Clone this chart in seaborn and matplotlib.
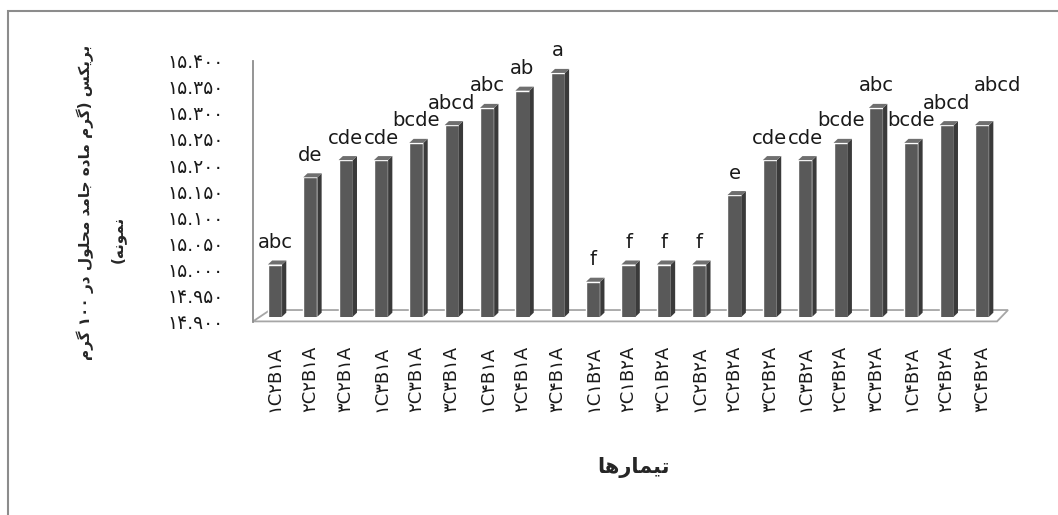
import re

import matplotlib

matplotlib.use("Agg")
import matplotlib.pyplot as plt
import seaborn as sns
from matplotlib.patches import Polygon, Rectangle

# treatment labels as they appear on the axis (visual order, bottom to top)
TREATMENTS = [
    "۱C۲B۱A", "۲C۲B۱A", "۳C۲B۱A", "۱C۳B۱A", "۲C۳B۱A", "۳C۳B۱A",
    "۱C۴B۱A", "۲C۴B۱A", "۳C۴B۱A", "۱C۱B۲A", "۲C۱B۲A", "۳C۱B۲A",
    "۱C۲B۲A", "۲C۲B۲A", "۳C۲B۲A", "۱C۳B۲A", "۲C۳B۲A", "۳C۳B۲A",
    "۱C۴B۲A", "۲C۴B۲A", "۳C۴B۲A",
]
BRIX = [
    15.000, 15.167, 15.200, 15.200, 15.233, 15.267, 15.300, 15.333, 15.367,
    14.967, 15.000, 15.000, 15.000, 15.133, 15.200, 15.200, 15.233, 15.300,
    15.233, 15.267, 15.267,
]
LETTERS = [
    "abc", "de", "cde", "cde", "bcde", "abcd", "abc", "ab", "a",
    "f", "f", "f", "f", "e", "cde", "cde", "bcde", "abc",
    "bcde", "abcd", "abcd",
]
Y_TICKS = [14.90, 14.95, 15.00, 15.05, 15.10, 15.15, 15.20, 15.25, 15.30, 15.35, 15.40]
Y_TITLE_1 = "بریکس (گرم ماده جامد محلول در ۱۰۰ گرم"
Y_TITLE_2 = "نمونه)"
X_TITLE = "تیمارها"

# arabic presentation forms: isolated, final, initial, medial
FORMS = {
    "ا": ("\ufe8d", "\ufe8e", None, None),
    "ب": ("\ufe8f", "\ufe90", "\ufe91", "\ufe92"),
    "ت": ("\ufe95", "\ufe96", "\ufe97", "\ufe98"),
    "ج": ("\ufe9d", "\ufe9e", "\ufe9f", "\ufea0"),
    "ح": ("\ufea1", "\ufea2", "\ufea3", "\ufea4"),
    "د": ("\ufea9", "\ufeaa", None, None),
    "ر": ("\ufead", "\ufeae", None, None),
    "س": ("\ufeb1", "\ufeb2", "\ufeb3", "\ufeb4"),
    "ل": ("\ufedd", "\ufede", "\ufedf", "\ufee0"),
    "م": ("\ufee1", "\ufee2", "\ufee3", "\ufee4"),
    "ن": ("\ufee5", "\ufee6", "\ufee7", "\ufee8"),
    "ه": ("\ufee9", "\ufeea", "\ufeeb", "\ufeec"),
    "و": ("\ufeed", "\ufeee", None, None),
    "ی": ("\ufbfc", "\ufbfd", "\ufbfe", "\ufbff"),
    "ک": ("\ufb8e", "\ufb8f", "\ufb90", "\ufb91"),
    "گ": ("\ufb92", "\ufb93", "\ufb94", "\ufb95"),
}


def rtl(text: str) -> str:
    shaped = []
    for i, ch in enumerate(text):
        if ch not in FORMS:
            shaped.append(ch)
            continue
        prev = text[i - 1] if i > 0 else ""
        nxt = text[i + 1] if i + 1 < len(text) else ""
        iso, fin, ini, med = FORMS[ch]
        join_prev = prev in FORMS and FORMS[prev][2] is not None
        join_next = nxt in FORMS and ini is not None
        if join_prev and join_next:
            shaped.append(med)
        elif join_prev:
            shaped.append(fin)
        elif join_next:
            shaped.append(ini)
        else:
            shaped.append(iso)
    runs = re.findall(r"[۰-۹0-9]+|.", "".join(shaped))
    swap = {"(": ")", ")": "("}
    return "".join(swap.get(r, r) for r in reversed(runs))


def persian_number(value: float) -> str:
    return f"{value:.3f}".translate(str.maketrans("0123456789", "۰۱۲۳۴۵۶۷۸۹"))


W, H = 1058, 515
sns.set_theme(style="white")
plt.rcParams["font.family"] = ["DejaVu Sans"]

fig = plt.figure(figsize=(W / 100, H / 100), dpi=100)
fig.add_artist(Rectangle((8 / W, -0.1), 1.2, (H - 11) / H + 0.1, transform=fig.transFigure,
                         fill=False, edgecolor="#8c8c8c", linewidth=1.5))

# bar axes: bottom of front faces at y=316.7px, 0.5 units over 261px
ax = fig.add_axes([257.3 / W, (H - 316.7) / H, 742.4 / W, 261 / H])
ax.set_facecolor("none")
sns.barplot(x=TREATMENTS, y=BRIX, color="#595959", saturation=1, width=0.4, ax=ax, zorder=3)
ax.set_ylim(14.9, 15.4)
ax.set_xlim(-0.5, 20.5)
for spine in ax.spines.values():
    spine.set_visible(False)
ax.set_yticks([])
ax.set_xlabel("")
ax.tick_params(axis="x", length=0, pad=21, labelsize=13, rotation=90, colors="#1a1a1a")

# pseudo-3d faces
dx, dy = 0.12, 0.0077
for bar in ax.patches:
    xl = bar.get_x()
    xr = xl + bar.get_width()
    top = bar.get_height()
    bottom = 14.9
    ax.add_patch(Polygon([(xr, bottom), (xr + dx, bottom + dy), (xr + dx, top + dy), (xr, top)],
                         closed=True, facecolor="#3a3a3a", edgecolor="none", zorder=3))
    ax.add_patch(Polygon([(xl, top), (xr, top), (xr + dx, top + dy), (xl + dx, top + dy)],
                         closed=True, facecolor="#6f6f6f", edgecolor="none", zorder=3))

for i, (value, letter) in enumerate(zip(BRIX, LETTERS)):
    # the last label was nudged up-right in the original to clear its neighbour
    offset = (11, 22) if i == len(LETTERS) - 1 else (0, 9)
    ax.annotate(letter, (i, value), xytext=offset, textcoords="offset points",
                ha="center", va="bottom", fontsize=14, color="#1a1a1a")

# floor
floor = Polygon([(-0.0058, -0.018), (0.0171, 0.0256), (1.0112, 0.0256), (0.9964, -0.018)],
                closed=True, transform=ax.transAxes, facecolor="white", edgecolor="#a6a6a6",
                linewidth=1.3, clip_on=False, zorder=1)
ax.add_patch(floor)

# value axis on the front-left edge
ay = fig.add_axes([253 / W, (H - 321.7) / H, 0.001, 261 / H])
ay.set_facecolor("none")
ay.set_ylim(14.9, 15.4)
ay.set_yticks(Y_TICKS)
ay.set_yticklabels([persian_number(v) for v in Y_TICKS])
ay.set_xticks([])
for name, spine in ay.spines.items():
    spine.set_visible(name == "left")
ay.spines["left"].set_color("#8c8c8c")
ay.spines["left"].set_linewidth(1.3)
ay.tick_params(axis="y", direction="out", length=6, width=1.2, color="#8c8c8c",
               pad=15, labelsize=13.5, labelcolor="#1a1a1a")

fig.text(85 / W, (H - 202) / H, rtl(Y_TITLE_1), rotation=90, ha="center", va="center",
         fontsize=11, fontweight="bold")
fig.text(118 / W, (H - 239) / H, rtl(Y_TITLE_2), rotation=90, ha="center", va="center",
         fontsize=11, fontweight="bold")
fig.text(633 / W, (H - 467) / H, rtl(X_TITLE), ha="center", va="center",
         fontsize=15, fontweight="bold")

fig.savefig("out.png", dpi=100)
